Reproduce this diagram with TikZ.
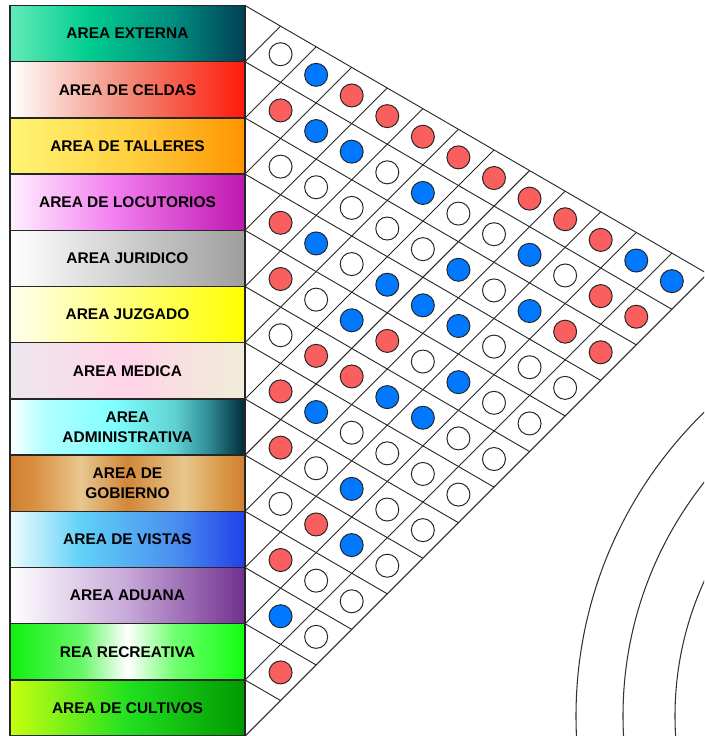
\documentclass[tikz,border=0pt]{standalone}
\usepackage{fontspec}
\setmainfont{Liberation Sans}
\usepackage{tikz}
\usetikzlibrary{positioning}
\definecolor{dotred}{RGB}{250,95,95}
\definecolor{dotblue}{RGB}{0,120,255}
% fondos de las areas
\pgfdeclarehorizontalshading{externa}{100bp}{rgb(0bp)=(0.38,0.92,0.72); rgb(25bp)=(0.38,0.92,0.72); rgb(42bp)=(0,0.80,0.56); rgb(60bp)=(0,0.55,0.50); rgb(75bp)=(0,0.25,0.33); rgb(100bp)=(0,0.25,0.33)}
\pgfdeclarehorizontalshading{celdas}{100bp}{rgb(0bp)=(1,1,1); rgb(25bp)=(1,1,1); rgb(50bp)=(0.95,0.54,0.47); rgb(75bp)=(1,0.1,0.04); rgb(100bp)=(1,0.1,0.04)}
\pgfdeclarehorizontalshading{talleres}{100bp}{rgb(0bp)=(1,0.96,0.46); rgb(25bp)=(1,0.96,0.46); rgb(50bp)=(1,0.82,0.25); rgb(75bp)=(1,0.58,0); rgb(100bp)=(1,0.58,0)}
\pgfdeclarehorizontalshading{locutorios}{100bp}{rgb(0bp)=(1,0.94,1); rgb(25bp)=(1,0.94,1); rgb(47bp)=(0.95,0.5,0.94); rgb(75bp)=(0.75,0.09,0.69); rgb(100bp)=(0.75,0.09,0.69)}
\pgfdeclarehorizontalshading{juridico}{100bp}{rgb(0bp)=(1,1,1); rgb(25bp)=(1,1,1); rgb(75bp)=(0.62,0.62,0.62); rgb(100bp)=(0.62,0.62,0.62)}
\pgfdeclarehorizontalshading{juzgado}{100bp}{rgb(0bp)=(1,1,0.94); rgb(25bp)=(1,1,0.94); rgb(75bp)=(1,1,0); rgb(100bp)=(1,1,0)}
\pgfdeclarehorizontalshading{medica}{100bp}{rgb(0bp)=(0.93,0.91,0.93); rgb(25bp)=(0.93,0.91,0.93); rgb(50bp)=(1,0.83,0.91); rgb(75bp)=(0.94,0.93,0.85); rgb(100bp)=(0.94,0.93,0.85)}
\pgfdeclarehorizontalshading{admin}{100bp}{rgb(0bp)=(1,1,1); rgb(25bp)=(1,1,1); rgb(32bp)=(0.7,1,1); rgb(47bp)=(0.5,1,1); rgb(60bp)=(0.38,0.82,0.82); rgb(67bp)=(0.19,0.56,0.6); rgb(75bp)=(0,0.16,0.22); rgb(100bp)=(0,0.16,0.22)}
\pgfdeclarehorizontalshading{gobierno}{100bp}{rgb(0bp)=(0.82,0.5,0.19); rgb(25bp)=(0.82,0.5,0.19); rgb(30bp)=(0.85,0.56,0.25); rgb(40bp)=(0.91,0.78,0.56); rgb(50bp)=(0.82,0.53,0.22); rgb(62bp)=(0.91,0.78,0.56); rgb(70bp)=(0.85,0.6,0.28); rgb(75bp)=(0.82,0.5,0.19); rgb(100bp)=(0.82,0.5,0.19)}
\pgfdeclarehorizontalshading{vistas}{100bp}{rgb(0bp)=(0.94,0.99,1); rgb(25bp)=(0.94,0.99,1); rgb(40bp)=(0.38,0.82,0.97); rgb(60bp)=(0.29,0.56,0.94); rgb(75bp)=(0.13,0.25,0.91); rgb(100bp)=(0.13,0.25,0.91)}
\pgfdeclarehorizontalshading{aduana}{100bp}{rgb(0bp)=(1,1,1); rgb(25bp)=(1,1,1); rgb(50bp)=(0.78,0.66,0.85); rgb(75bp)=(0.44,0.19,0.56); rgb(100bp)=(0.44,0.19,0.56)}
\pgfdeclarehorizontalshading{recreativa}{100bp}{rgb(0bp)=(0.06,0.94,0.06); rgb(25bp)=(0.06,0.94,0.06); rgb(40bp)=(0.4,0.97,0.4); rgb(50bp)=(1,1,1); rgb(60bp)=(0.44,1,0.44); rgb(75bp)=(0.06,1,0.06); rgb(100bp)=(0.06,1,0.06)}
\pgfdeclarehorizontalshading{cultivos}{100bp}{rgb(0bp)=(0.78,1,0.06); rgb(25bp)=(0.78,1,0.06); rgb(50bp)=(0.13,0.88,0.13); rgb(75bp)=(0,0.6,0); rgb(100bp)=(0,0.6,0)}
\tikzset{
    areabox/.style={
        draw=black!85,
        line width=1pt,
        minimum width=58.75mm,
        minimum height=14.05mm,
        inner sep=0pt,
        outer sep=0pt,
        align=center,
        font=\fontsize{11}{14}\selectfont\bfseries
    },
    gridline/.style={line width=0.65pt,black!85},
    ring/.style={line width=0.75pt,black!80},
    dotw/.style={circle,draw=black!85,fill=white,line width=0.7pt,
        minimum size=5.75mm,inner sep=0pt},
    dotr/.style={dotw,fill=dotred},
    dotb/.style={dotw,fill=dotblue}
}
\begin{document}
\begin{tikzpicture}[x=0.25mm,y=-0.25mm]
    \useasboundingbox (0,0) rectangle (704,736);
    \clip (0,0) rectangle (704,736);
    % areas
    \node[areabox,shading=externa,anchor=north west] (a1) at (10,5.5) {AREA EXTERNA};
    \node[areabox,shading=celdas,below=0pt of a1] (a2) {AREA DE CELDAS};
    \node[areabox,shading=talleres,below=0pt of a2] (a3) {AREA DE TALLERES};
    \node[areabox,shading=locutorios,below=0pt of a3] (a4) {AREA DE LOCUTORIOS};
    \node[areabox,shading=juridico,below=0pt of a4] (a5) {AREA JURIDICO};
    \node[areabox,shading=juzgado,below=0pt of a5] (a6) {AREA JUZGADO};
    \node[areabox,shading=medica,below=0pt of a6] (a7) {AREA MEDICA};
    \node[areabox,shading=admin,below=0pt of a7] (a8) {AREA\\ADMINISTRATIVA};
    \node[areabox,shading=gobierno,below=0pt of a8] (a9) {AREA DE\\GOBIERNO};
    \node[areabox,shading=vistas,below=0pt of a9] (a10) {AREA DE VISTAS};
    \node[areabox,shading=aduana,below=0pt of a10] (a11) {AREA ADUANA};
    \node[areabox,shading=recreativa,below=0pt of a11] (a12) {REA RECREATIVA};
    \node[areabox,shading=cultivos,below=0pt of a12] (a13) {AREA DE CULTIVOS};
    % rejilla de la matriz
    \foreach \k in {0,...,13}{
        \pgfmathsetmacro\yk{5.5+56.2*\k}
        \pgfmathsetmacro\tdown{(13-\k)*56.2/1.58}
        \pgfmathsetmacro\tup{\k*56.2/1.58}
        \coordinate (b\k) at (245,\yk);
        \coordinate (d\k) at ({245+\tdown},{\yk+0.58*\tdown});
        \coordinate (u\k) at ({245+\tup},{\yk-\tup});
        \draw[gridline] (b\k) -- (d\k) (b\k) -- (u\k);
    }
    % relaciones
    \foreach \i/\row in {1/{w,b,r,r,r,r,r,r,r,r,b,b},2/{r,b,b,w,b,w,w,b,w,r,r},
        3/{w,w,w,w,w,b,w,b,r,r},4/{r,b,w,b,b,b,w,w,w},5/{r,w,b,r,w,b,w,w},
        6/{w,r,r,b,b,w,w},7/{r,b,w,w,w,w},8/{r,w,b,w,w},9/{w,r,b,w},
        10/{r,w,w},11/{b,w},12/{r}}{
        \foreach \c [count=\d] in \row {
            \pgfmathsetmacro\t{\d*56.2/1.58}
            \node[dot\c] (c\i-\d) at ({245+\t},{5.5+56.2*(\i-0.5)+0.58*\t}) {};
        }
    }
    % arcos
    \draw[ring] (1000,716) circle[radius=106mm];
    \draw[ring] (1000,716) circle[radius=94.25mm];
    \draw[ring] (1000,716) circle[radius=81.25mm];
\end{tikzpicture}
\end{document}
